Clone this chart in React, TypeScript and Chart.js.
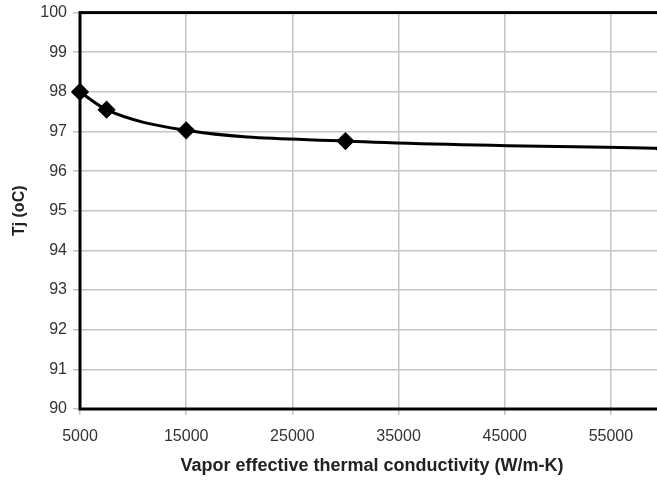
import React, { useEffect, useRef } from "react";
import { Chart, registerables } from "chart.js";

Chart.register(...registerables);

const conductivity = [5000, 7500, 15000, 30000, 60000];
const tjValues = [98.0, 97.55, 97.03, 96.76, 96.57];
const xTicks = [5000, 15000, 25000, 35000, 45000, 55000];
const yTicks = [90, 91, 92, 93, 94, 95, 96, 97, 98, 99, 100];
const xTitle = "Vapor effective thermal conductivity (W/m-K)";
const yTitle = "Tj (oC)";

const framePlugin = {
  id: "frame",
  beforeDatasetsDraw(chart: any) {
    const { ctx, chartArea } = chart;
    ctx.save();
    ctx.strokeStyle = "#000";
    ctx.lineWidth = 3;
    ctx.strokeRect(chartArea.left, chartArea.top, chartArea.right - chartArea.left, chartArea.bottom - chartArea.top);
    ctx.restore();
  },
};

export default function App() {
  const ref = useRef<HTMLCanvasElement>(null);
  useEffect(() => {
    if (!ref.current) return;
    const font = "'Liberation Sans', Arial, sans-serif";
    const chart = new Chart(ref.current, {
      type: "line",
      data: {
        datasets: [
          {
            data: conductivity.map((x, i) => ({ x, y: tjValues[i] })),
            borderColor: "#000",
            backgroundColor: "#000",
            borderWidth: 3,
            pointStyle: "rectRot",
            pointRadius: 7,
            pointHoverRadius: 7,
            cubicInterpolationMode: "monotone",
            clip: false,
          },
        ],
      },
      options: {
        animation: false,
        responsive: false,
        maintainAspectRatio: false,
        layout: { padding: { top: 9, right: 16, left: 0, bottom: 0 } },
        plugins: { legend: { display: false }, tooltip: { enabled: false } },
        scales: {
          x: {
            type: "linear",
            min: 5000,
            max: 60000,
            afterBuildTicks: (s: any) => {
              s.ticks = xTicks.map((v) => ({ value: v }));
            },
            afterFit: (s: any) => {
              s.height = 76;
            },
            grid: { color: "#c4c4c4", lineWidth: 1.5, tickLength: 6, tickColor: "#c4c4c4" },
            border: { display: false },
            ticks: {
              color: "#333",
              font: { family: font, size: 16 },
              padding: 12,
              maxRotation: 0,
              callback: (v: any) => String(v),
            },
            title: {
              display: true,
              text: xTitle,
              color: "#222",
              font: { family: font, size: 18, weight: "bold" },
              padding: { top: 0, bottom: 8 },
            },
          },
          y: {
            type: "linear",
            min: 90,
            max: 100,
            afterBuildTicks: (s: any) => {
              s.ticks = yTicks.map((v) => ({ value: v }));
            },
            afterFit: (s: any) => {
              s.width = 80;
            },
            grid: { color: "#c4c4c4", lineWidth: 1.5, tickLength: 7, tickColor: "#c4c4c4" },
            border: { display: false },
            ticks: {
              color: "#333",
              font: { family: font, size: 16 },
              padding: 6,
            },
            title: {
              display: true,
              text: yTitle,
              color: "#222",
              font: { family: font, size: 16, weight: "bold" },
              padding: { top: 10, bottom: 0 },
            },
          },
        },
      },
      plugins: [framePlugin],
    } as any);
    return () => chart.destroy();
  }, []);
  return (
    <div style={{ position: "absolute", left: 0, top: 0, width: 657, height: 481, overflow: "hidden", background: "#fff" }}>
      <canvas
        ref={ref}
        width={680}
        height={488}
        style={{ position: "absolute", left: 0, top: -3, width: 680, height: 488, display: "block" }}
      />
    </div>
  );
}
